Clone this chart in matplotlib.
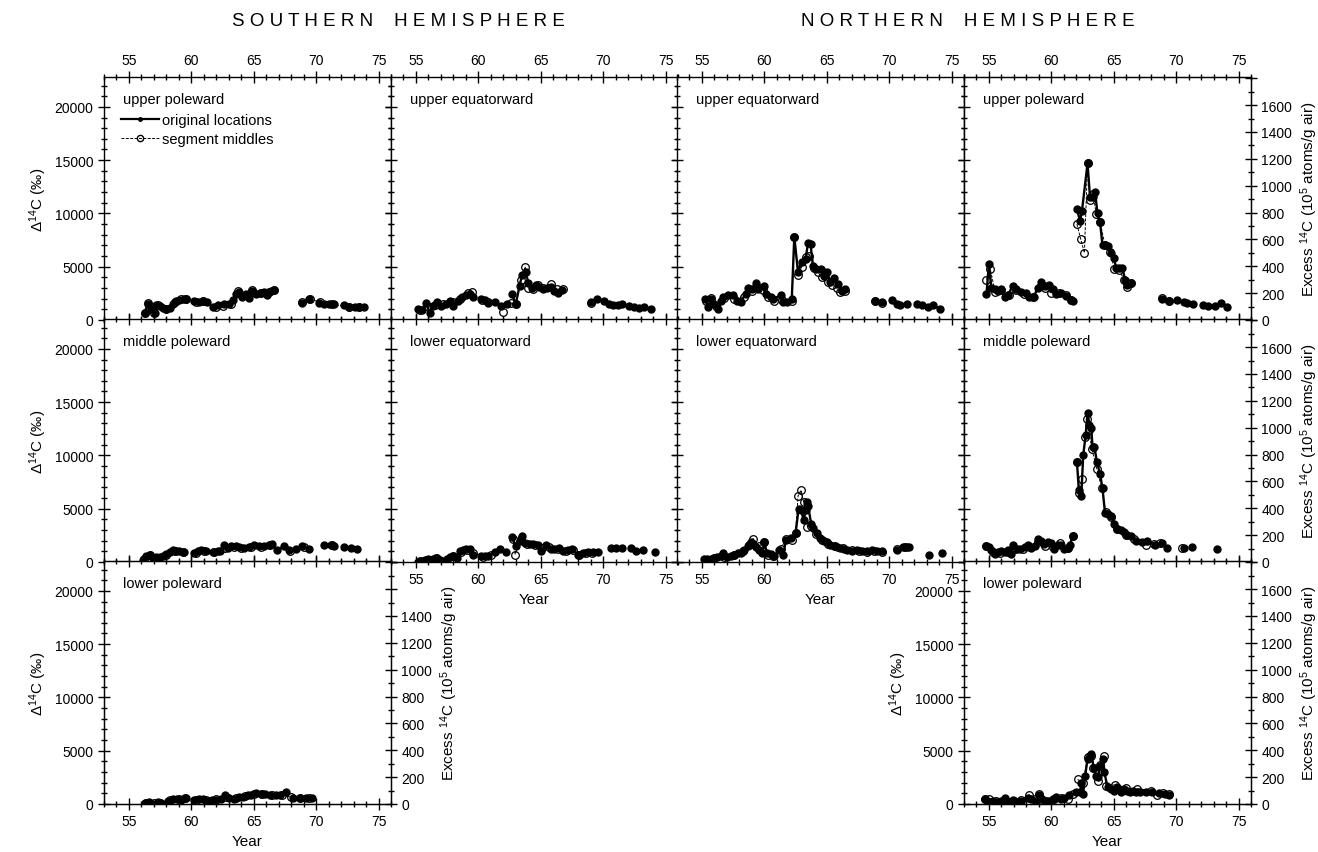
import numpy as np
import matplotlib
matplotlib.use('Agg')
import matplotlib.pyplot as plt
from matplotlib.ticker import MultipleLocator, FuncFormatter
from matplotlib.lines import Line2D

plt.rcParams['font.family'] = ['Liberation Sans', 'DejaVu Sans']
plt.rcParams['mathtext.fontset'] = 'custom'
plt.rcParams['mathtext.rm'] = 'Liberation Sans'
plt.rcParams['mathtext.it'] = 'Liberation Sans:italic'

nan = np.nan

# ── data (Δ14C in per mil, years 19xx) ────────────────────────────
# southern hemisphere, upper poleward
sh_up_pole_yr = [56.25, 56.5, 56.8, 57.05, 57.2, 57.45, 57.7, 58.0, 58.25, 58.5, 58.8, 59.05, 59.4, 59.6, nan,
                 60.25, 60.6, 60.9, 61.25, nan, 61.7, 62.1, nan, 62.65, 63.0, 63.3, 63.6, 63.8, 64.05, 64.4, 64.6,
                 64.9, 65.2, 65.5, 65.85, 66.1, 66.4, 66.6, nan, 68.9, 69.45, nan, 70.2, 70.65, 71.05, 71.45, nan,
                 72.25, 72.65, 73.1, 73.45, 73.85]
sh_up_pole_orig = [650, 1500, 1000, 700, 1450, 1300, 1150, 1050, 1150, 1500, 1800, 1900, 2000, 2000, nan,
                   1800, 1700, 1800, 1700, nan, 1250, 1400, nan, 1500, 1500, 1900, 2400, 2600, 2200, 2400, 2100,
                   2700, 2400, 2550, 2600, 2300, 2700, 2800, nan, 1600, 2000, nan, 1600, 1500, 1500, 1500, nan,
                   1400, 1250, 1250, 1250, 1250]
sh_up_pole_seg_yr = [56.3, 56.5, 57.0, 57.3, 58.0, 58.7, 59.2, 59.6, nan, 60.4, 60.9, nan, 62.0, 62.5, 63.2,
                     63.7, 64.4, 64.9, 65.6, 66.2, 66.6, nan, 68.9, 69.5, 70.3, 71.3, 72.6, 73.4]
sh_up_pole_seg = [700, 1600, 650, 1450, 1000, 1700, 1950, 2000, nan, 1650, 1750, nan, 1200, 1350, 1500,
                  2700, 2300, 2800, 2500, 2600, 2800, nan, 1700, 2000, 1650, 1500, 1200, 1250]

# southern hemisphere, upper equatorward
sh_up_eq_yr = [55.2, 55.5, 55.8, 56.1, 56.4, 56.7, 57.0, 57.4, 57.7, 58.0, 58.4, 58.7, 59.0, 59.3, 59.6, nan,
               60.2, 60.5, 60.8, 61.3, nan, 61.8, nan, 62.3, nan, 62.7, 63.0, 63.3, 63.5, 63.8, 64.0, 64.3, 64.6,
               64.9, 65.2, 65.5, 65.8, 66.1, 66.4, 66.7, nan, 69.0, 69.5, nan, 70.1, 70.5, 70.8, 71.2, 71.5, nan,
               72.1, 72.5, 72.9, 73.3, 73.8]
sh_up_eq_orig = [1000, 900, 1600, 700, 1300, 1700, 1300, 1500, 1800, 1300, 1800, 2200, 2300, 2400, 2200, nan,
                 2000, 1900, 1600, 1700, nan, 1300, nan, 1500, nan, 2400, 1500, 3200, 4200, 4500, 3500, 3000, 3300,
                 3100, 2900, 3000, 3100, 2700, 2500, 2800, nan, 1700, 2000, nan, 1800, 1500, 1400, 1450, 1500, nan,
                 1300, 1200, 1100, 1200, 1000]
sh_up_eq_seg_yr = [55.3, 55.9, 56.5, 57.2, 58.0, 58.5, 59.2, 59.5, nan, 60.3, 60.8, nan, 62.0, nan, 62.6, 63.0,
                   63.4, 63.75, 64.0, 64.4, 64.8, 65.2, 65.8, 66.3, 66.8, nan, 69.0]
sh_up_eq_seg = [900, 1300, 1400, 1500, 1700, 2000, 2500, 2600, nan, 1900, 1700, nan, 750, nan, 1600, 1500,
                3800, 5000, 3000, 2900, 3300, 3000, 3400, 2900, 2900, nan, 1600]

# northern hemisphere, upper equatorward
nh_up_eq_yr = [55.27, 55.5, 55.75, 56.0, 56.3, 56.5, 56.7, 57.1, 57.5, 57.8, 58.1, 58.5, 58.7, 59.0, 59.3, 59.5,
               59.95, 60.1, 60.5, 60.7, 61.3, 61.5, 61.8, 62.2, 62.4, 62.7, 63.0, 63.3, 63.5, 63.7, 63.9, 64.1,
               64.5, 64.8, 65.0, 65.3, 65.6, 65.9, 66.2, 66.5, nan, 68.9, 69.4, nan, 70.2, 70.6, 70.9, 71.4, nan,
               72.2, 72.6, 73.1, 73.5, 74.1]
nh_up_eq_orig = [2000, 1200, 2000, 1500, 1000, 1800, 2200, 2300, 2300, 1800, 1700, 2400, 3000, 2900, 3500, 2900,
                 3200, 2400, 2200, 2000, 2300, 1700, 1700, 2000, 7800, 4500, 5400, 5700, 7200, 7100, 5100, 4800,
                 4800, 4100, 4500, 3600, 3900, 3400, 2700, 2900, nan, 1800, 1650, nan, 1900, 1500, 1400, 1500, nan,
                 1500, 1400, 1200, 1400, 1000]
nh_up_eq_seg_yr = [55.3, 55.75, 56.1, 56.8, 57.6, 58.4, 59.0, 59.4, 59.9, 60.3, 60.8, 61.4, 62.2, 62.4, 62.7,
                   63.0, 63.35, 63.6, 64.0, 64.3, 64.6, 65.1, 65.4, 65.8, 66.1, 66.5, nan, 68.9, 69.4]
nh_up_eq_seg = [1800, 2100, 1300, 2100, 2000, 2200, 2700, 3100, 2800, 2200, 1800, 1900, 1800, 7800, 4200,
                5000, 5900, 6000, 4900, 4500, 4000, 3600, 3300, 3000, 2600, 2700, nan, 1800, 1600]

# northern hemisphere, upper poleward
nh_up_pole_yr = [54.8, 55.0, 55.2, 55.45, 55.7, 55.95, 56.25, 56.5, 56.9, 57.2, 57.6, 58.0, 58.2, 58.6, 58.9,
                 59.15, 59.5, 59.85, 60.1, 60.4, 60.75, 61.15, 61.55, 61.7, nan, 62.05, 62.3, 62.45, 62.9, 63.1,
                 63.3, 63.5, 63.7, 63.9, 64.1, 64.3, 64.55, 64.8, 65.0, 65.2, 65.45, 65.7, 65.9, 66.1, 66.35, nan,
                 68.85, 69.4, nan, 70.1, 70.6, 70.9, 71.35, nan, 72.15, 72.55, 73.1, 73.6, 74.1]
nh_up_pole_orig = [2400, 5300, 3000, 2900, 2700, 2900, 2200, 2300, 3200, 2900, 2600, 2550, 2200, 2200, 3000,
                   3600, 3200, 3300, 2900, 2400, 2550, 2250, 1900, 1800, nan, 10400, 9300, 10200, 14700, 11500,
                   11500, 12000, 10000, 9200, 7000, 7000, 6900, 6300, 5800, 4900, 4900, 4900, 3800, 3300, 3500, nan,
                   2000, 1800, nan, 1900, 1700, 1550, 1500, nan, 1400, 1300, 1300, 1600, 1200]
nh_up_pole_seg_yr = [54.8, 55.1, 55.5, 56.0, 56.6, 57.2, 57.8, 58.5, 59.2, 59.5, 60.0, 60.6, 61.2, 61.6, nan,
                     62.05, 62.35, 62.65, 62.9, 63.1, 63.35, 63.6, 63.9, 64.3, 64.7, 65.05, 65.4, 65.85, 66.1,
                     66.4, nan, 68.9, 69.4]
nh_up_pole_seg = [3800, 4800, 2600, 2800, 2300, 2800, 2400, 2200, 3200, 3000, 2500, 2500, 2300, 1900, nan,
                  9000, 7600, 6300, 14700, 11300, 11800, 9900, 9200, 7000, 6400, 4800, 4700, 3800, 3100,
                  3500, nan, 2100, 1750]

# southern hemisphere, middle poleward
sh_mid_pole_yr = [56.1, 56.4, 56.65, 56.9, 57.2, 57.45, 57.7, 58.0, 58.25, 58.5, 58.8, 59.05, 59.45, nan,
                  60.25, 60.5, 60.8, 61.2, 61.7, 62.1, 62.3, nan, 62.65, 62.9, 63.2, 63.6, 63.85, 64.25, 64.65,
                  65.05, 65.45, 65.85, 66.25, 66.5, nan, 66.9, 67.45, 67.85, 68.4, 68.9, 69.45, nan, 70.65, 71.2,
                  71.45, nan, 72.25, 72.8, 73.25]
sh_mid_pole_orig = [200, 600, 700, 400, 450, 500, 600, 750, 900, 1100, 1000, 1050, 900, nan,
                    800, 1000, 1100, 1050, 950, 1000, 1050, nan, 1600, 1300, 1500, 1500, 1400, 1300, 1400,
                    1550, 1500, 1500, 1600, 1650, nan, 1100, 1500, 1100, 1250, 1500, 1200, nan, 1600, 1600,
                    1500, nan, 1400, 1300, 1200]
sh_mid_pole_seg_yr = [56.2, 56.7, 57.3, 58.0, 58.7, 59.3, nan, 60.4, 61.0, 61.8, nan, 62.7, 63.4, 64.0, 64.8,
                      65.6, 66.3, nan, 67.9, 69.0, nan, 71.3]
sh_mid_pole_seg = [300, 650, 400, 700, 1000, 950, nan, 850, 1050, 950, nan, 1300, 1450, 1350, 1450,
                   1450, 1550, nan, 1000, 1400, nan, 1550]

# southern hemisphere, lower equatorward
sh_low_eq_yr = [55.2, 55.45, 55.7, 56.0, 56.4, 56.65, 56.9, 57.2, 57.45, 57.7, 58.0, 58.25, 58.5, 58.8, 59.05,
                59.3, 59.55, nan, 60.25, 60.5, 60.8, 61.3, 61.7, 62.25, nan, 62.7, 63.0, 63.3, 63.5, 63.75, 64.1,
                64.4, 64.8, 65.05, 65.45, 65.8, 66.1, 66.5, 66.8, 67.2, 67.5, 68.0, 68.4, 68.8, 69.2, 69.6, nan,
                70.65, 71.05, 71.5, nan, 72.25, 72.6, 73.2, nan, 74.15]
sh_low_eq_orig = [0, 100, 200, 250, 300, 400, 200, 0, 250, 500, 600, 400, 1000, 1100, 1250,
                  1200, 700, nan, 550, 600, 600, 950, 1200, 950, nan, 2300, 1500, 2000, 2400, 1750, 1700,
                  1700, 1600, 1000, 1600, 1250, 1250, 1350, 1000, 1100, 1200, 700, 850, 900, 900, 900, nan,
                  1350, 1350, 1350, nan, 1350, 1050, 1100, nan, 900]
sh_low_eq_seg_yr = [55.3, 55.9, 56.6, 57.3, 58.0, 58.6, 59.1, 59.6, nan, 60.4, 61.0, nan, 62.8, 62.95, 63.4,
                    63.9, 64.5, 65.1, 65.7, 66.4, 67.0, 67.6, 68.1, 68.6, 69.1]
sh_low_eq_seg = [50, 200, 350, 100, 550, 900, 1150, 800, nan, 500, 650, nan, 2200, 700, 2200,
                 1700, 1600, 1300, 1400, 1200, 1050, 1100, 700, 800, 850]

# northern hemisphere, lower equatorward
nh_low_eq_yr = [55.15, 55.4, 55.7, 55.95, 56.2, 56.5, 56.7, 57.0, 57.3, 57.55, 57.85, 58.1, 58.4, 58.65, 58.9,
                59.1, 59.35, 59.6, 59.85, 60.0, 60.2, 60.55, 60.8, nan, 61.2, 61.5, 61.75, 62.15, 62.5, 62.75,
                62.95, 63.15, 63.3, 63.4, 63.5, 63.75, 63.9, 64.2, 64.45, 64.75, 65.0, 65.3, 65.55, 65.85, 66.1,
                66.35, 66.65, 67.0, 67.4, 67.8, 68.2, 68.6, 69.0, 69.4, nan, 70.6, 71.1, 71.4, 71.6, nan, 73.2,
                nan, 74.2]
nh_low_eq_orig = [250, 300, 300, 400, 500, 550, 850, 500, 600, 700, 850, 850, 1150, 1500, 1850,
                  1650, 1400, 1150, 850, 1850, 800, 750, 550, nan, 1150, 700, 2100, 2250, 2700, 5000,
                  4850, 3900, 4850, 5600, 5300, 3600, 3200, 2700, 2250, 2000, 1850, 1600, 1500, 1400, 1300,
                  1200, 1150, 1000, 1100, 1000, 1000, 1100, 1000, 1000, nan, 1150, 1400, 1400, 1400, nan, 700,
                  nan, 850]
nh_low_eq_seg_yr = [55.3, 56.0, 56.8, 57.6, 58.3, 58.8, 59.1, 59.6, 60.0, 60.3, 60.7, nan, 61.3, 61.75, 62.2,
                    62.5, 62.7, 62.95, 63.15, 63.45, 63.75, 64.1, 64.6, 65.1, 65.7, 66.3, 67.0, 67.6, 68.2,
                    68.8, 69.4, nan, 70.6, 71.3]
nh_low_eq_seg = [200, 350, 500, 650, 1000, 1600, 2200, 1500, 1850, 700, 600, nan, 1200, 2200, 2100,
                 2700, 6200, 6750, 5600, 3300, 3400, 2600, 2100, 1700, 1500, 1300, 1100, 1000, 950,
                 1000, 950, nan, 1200, 1450]

# northern hemisphere, middle poleward
nh_mid_pole_yr = [54.8, 55.0, 55.2, 55.45, 55.7, 56.0, 56.25, 56.5, 56.8, 56.95, 57.25, 57.5, 57.85, 58.1,
                  58.35, 58.65, 58.9, 59.15, 59.45, 59.7, 59.95, 60.25, 60.5, 60.75, 61.0, 61.3, 61.5, 61.7, nan,
                  62.05, 62.2, 62.4, 62.55, 62.75, 62.9, 63.05, 63.2, 63.3, 63.45, 63.65, 63.9, 64.1, 64.3,
                  64.55, 64.8, 65.05, 65.3, 65.55, 65.8, 66.1, 66.35, 66.8, 67.25, 67.7, 68.3, 68.85, 69.3, nan,
                  70.6, nan, 71.3, nan, 73.3]
nh_mid_pole_orig = [1500, 1400, 1100, 750, 900, 1000, 900, 1100, 750, 1600, 1250, 1250, 1400, 1550,
                    1300, 1500, 2150, 2000, 1700, 1900, 1800, 1250, 1550, 1550, 1250, 1300, 1600, 2450, nan,
                    9400, 6800, 6200, 10000, 11900, 14000, 12900, 12600, 10800, 10800, 9400, 8300, 6900, 4600,
                    4500, 4300, 3550, 3100, 3000, 2800, 2500, 2400, 2000, 1850, 2000, 1600, 1800, 1300, nan,
                    1300, nan, 1450, nan, 1250]
nh_mid_pole_seg_yr = [54.8, 55.3, 55.9, 56.5, 57.1, 57.7, 58.3, 58.9, 59.5, 60.1, 60.7, 61.3, 61.7, nan,
                      62.05, 62.25, 62.45, 62.7, 62.85, 63.0, 63.25, 63.65, 64.05, 64.35, 64.8, 65.3, 65.95,
                      66.6, 67.6, 68.2, 68.7, nan, 70.5]
nh_mid_pole_seg = [1500, 900, 800, 900, 1200, 1200, 1400, 1900, 1500, 1400, 1800, 1300, 2400, nan,
                   9400, 6500, 7800, 11700, 13400, 12400, 10600, 8700, 6900, 4700, 4200, 3050, 2500,
                   2200, 1600, 1700, 1800, nan, 1300]

# southern hemisphere, lower poleward
sh_low_pole_yr = [56.25, 56.6, 56.9, 57.3, 57.6, nan, 58.15, 58.5, 58.85, 59.2, 59.55, nan, 60.25, 60.6, 60.95,
                  61.3, 61.65, 62.0, 62.35, 62.7, 63.05, 63.4, 63.8, 64.1, 64.5, 64.8, 65.2, 65.55, 65.9, 66.3,
                  66.75, 67.1, 67.6, nan, 68.15, 68.7, 69.2, 69.65]
sh_low_pole_orig = [100, 150, 0, 150, 100, nan, 300, 450, 500, 400, 600, nan, 400, 450, 500,
                    300, 400, 400, 500, 800, 600, 500, 700, 700, 800, 850, 1000, 950, 950, 850,
                    850, 800, 1100, nan, 600, 600, 600, 600]
sh_low_pole_seg_yr = [56.4, 57.0, 57.5, 58.3, 59.0, 59.5, nan, 60.4, 61.2, 62.0, 62.8, 63.6, 64.3, 65.0, 65.7,
                      66.5, 67.3, 68.0, 68.7, 69.4]
sh_low_pole_seg = [50, 100, 50, 350, 450, 550, nan, 350, 350, 450, 700, 550, 750, 950, 900,
                   850, 800, 650, 550, 600]

# northern hemisphere, lower poleward
nh_low_pole_yr = [54.7, 55.0, 55.3, 55.65, 56.0, 56.25, 56.55, 56.95, 57.3, 57.6, 58.1, 58.4, 58.8, 59.0, 59.25,
                  59.5, 59.85, 60.15, 60.4, 60.75, 61.05, 61.45, nan, 62.0, 62.3, 62.4, 62.55, 62.7, 62.9, 63.1,
                  63.2, 63.4, 63.55, 63.75, 63.9, 64.1, 64.25, 64.5, 64.8, 65.05, 65.3, 65.55, 65.8, 66.05,
                  66.3, 66.55, 66.8, 67.1, 67.6, 68.1, 68.6, 69.1, 69.45]
nh_low_pole_orig = [450, 200, 300, 200, 300, 550, 200, 400, 200, 300, 550, 450, 150, 800, 450,
                    150, 300, 450, 700, 450, 550, 850, nan, 1150, 1100, 2000, 950, 2600, 4200, 4500,
                    4700, 3400, 2600, 2500, 3600, 4200, 3000, 1550, 1400, 1250, 1550, 1100, 1400, 1250,
                    1150, 1250, 1150, 1150, 1100, 1150, 1050, 950, 850]
nh_low_pole_seg_yr = [54.7, 55.0, 55.6, 56.3, 57.0, 57.6, 58.2, 58.7, 59.0, 59.6, 60.2, 60.8, 61.3, 61.7, nan,
                      62.1, 62.55, 62.9, 63.15, 63.3, 63.75, 63.9, 64.2, 64.4, 65.1, 65.95, 66.9, 67.95, 68.45,
                      68.95, 69.4]
nh_low_pole_seg = [450, 500, 300, 350, 300, 350, 850, 500, 950, 300, 500, 600, 500, 950, nan,
                   2300, 2000, 4400, 4500, 3400, 2200, 3700, 4500, 1700, 1800, 1500, 1450, 1250, 850,
                   1050, 900]

YMAX = 22800          # per mil at top of each panel
CONV = 12.6           # per mil per 10^5 atoms/g air

# ── figure layout (pixel-based, panels touch each other) ──────────
W, H = 1318, 853
fig = plt.figure(figsize=(W / 100, H / 100), dpi=100)

col_left = [104, 391, 677, 964]
col_w = 287
row_bottom = [321, 563, 805]
row_h = 243


def make_ax(row, col):
    rect = [col_left[col] / W, 1 - row_bottom[row] / H, col_w / W, row_h / H]
    return fig.add_axes(rect)


def style_ax(ax, top=False, bottom=False, left=False):
    ax.set_xlim(53, 76)
    ax.set_ylim(0, YMAX)
    ax.xaxis.set_major_locator(MultipleLocator(5))
    ax.xaxis.set_minor_locator(MultipleLocator(1))
    ax.yaxis.set_major_locator(MultipleLocator(5000))
    ax.yaxis.set_minor_locator(MultipleLocator(1000))
    ax.tick_params(which='both', direction='inout', top=True, right=True,
                   labeltop=top, labelbottom=bottom, labelleft=left,
                   labelsize=10, width=1.0)
    ax.tick_params(which='major', length=8)
    ax.tick_params(which='minor', length=4)
    for s in ax.spines.values():
        s.set_linewidth(1.0)
    if bottom:
        ax.set_xlabel('Year', fontsize=11)
    if left:
        ax.set_ylabel('Δ$^{14}$C (‰)', fontsize=11)


def right_axis(ax, max_label):
    tw = ax.twinx()
    tw.set_ylim(0, YMAX / CONV)
    tw.yaxis.set_major_locator(MultipleLocator(200))
    tw.yaxis.set_minor_locator(MultipleLocator(100))
    tw.tick_params(which='both', direction='inout', labelsize=10, width=1.0)
    tw.tick_params(which='major', length=8)
    tw.tick_params(which='minor', length=4)
    tw.yaxis.set_major_formatter(FuncFormatter(lambda v, p: '' if v > max_label else f'{v:.0f}'))
    tw.set_ylabel('Excess $^{14}$C (10$^5$ atoms/g air)', fontsize=11)
    return tw


def draw(ax, yr, orig, seg_yr, seg, label):
    ax.plot(yr, orig, '-o', color='black', lw=1.7, ms=5, mfc='black', mec='black', zorder=3)
    ax.plot(seg_yr, seg, '--o', color='black', lw=0.7, ms=5.5, mfc='none', mec='black',
            mew=0.9, dashes=(3, 1.5), zorder=4)
    ax.text(0.065, 0.91, label, transform=ax.transAxes, fontsize=10.5, va='center', ha='left')


panels = [
    (0, 0, 'upper poleward', sh_up_pole_yr, sh_up_pole_orig, sh_up_pole_seg_yr, sh_up_pole_seg),
    (0, 1, 'upper equatorward', sh_up_eq_yr, sh_up_eq_orig, sh_up_eq_seg_yr, sh_up_eq_seg),
    (0, 2, 'upper equatorward', nh_up_eq_yr, nh_up_eq_orig, nh_up_eq_seg_yr, nh_up_eq_seg),
    (0, 3, 'upper poleward', nh_up_pole_yr, nh_up_pole_orig, nh_up_pole_seg_yr, nh_up_pole_seg),
    (1, 0, 'middle poleward', sh_mid_pole_yr, sh_mid_pole_orig, sh_mid_pole_seg_yr, sh_mid_pole_seg),
    (1, 1, 'lower equatorward', sh_low_eq_yr, sh_low_eq_orig, sh_low_eq_seg_yr, sh_low_eq_seg),
    (1, 2, 'lower equatorward', nh_low_eq_yr, nh_low_eq_orig, nh_low_eq_seg_yr, nh_low_eq_seg),
    (1, 3, 'middle poleward', nh_mid_pole_yr, nh_mid_pole_orig, nh_mid_pole_seg_yr, nh_mid_pole_seg),
    (2, 0, 'lower poleward', sh_low_pole_yr, sh_low_pole_orig, sh_low_pole_seg_yr, sh_low_pole_seg),
    (2, 3, 'lower poleward', nh_low_pole_yr, nh_low_pole_orig, nh_low_pole_seg_yr, nh_low_pole_seg),
]

axes = {}
for row, col, label, yr, orig, seg_yr, seg in panels:
    ax = make_ax(row, col)
    top = row == 0
    bottom = row == 2 or (row == 1 and col in (1, 2))
    left = col == 0 or (row == 2 and col == 3)
    style_ax(ax, top=top, bottom=bottom, left=left)
    draw(ax, yr, orig, seg_yr, seg, label)
    if col == 3:
        right_axis(ax, 1700)
    if row == 2 and col == 0:
        right_axis(ax, 1500)
    axes[(row, col)] = ax

# legend in the first panel
handles = [
    Line2D([], [], color='black', lw=1.6, marker='o', ms=2.5, mfc='black'),
    Line2D([], [], color='black', lw=0.7, ls='--', dashes=(3, 1.5), marker='o', ms=4.5, mfc='none'),
]
axes[(0, 0)].legend(handles, ['original locations', 'segment middles'], loc='upper left',
                    bbox_to_anchor=(0.04, 0.875), frameon=False, fontsize=10.5,
                    handlelength=2.6, handletextpad=0.2, borderaxespad=0, labelspacing=0.35)

fig.text(398 / W, 1 - 22 / H, 'S O U T H E R N    H E M I S P H E R E', ha='center', va='center', fontsize=13.5)
fig.text(968 / W, 1 - 22 / H, 'N O R T H E R N    H E M I S P H E R E', ha='center', va='center', fontsize=13.5)

fig.savefig('out.png', dpi=100)
